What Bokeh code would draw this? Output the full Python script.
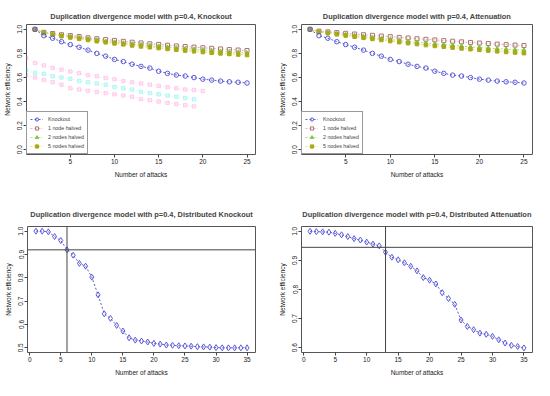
from bokeh.plotting import figure
from bokeh.layouts import column, row
from bokeh.models import FixedTicker, PrintfTickFormatter, Span, Legend, LegendItem, Range1d
from bokeh.embed import file_html
from bokeh.resources import INLINE

# ---------------- data ----------------
attacks25 = list(range(1, 26))
knockout = [1.0, 0.947, 0.926, 0.897, 0.873, 0.851, 0.827, 0.80, 0.777, 0.75, 0.732, 0.71,
            0.692, 0.678, 0.652, 0.634, 0.62, 0.612, 0.599, 0.586, 0.578, 0.57, 0.564, 0.56, 0.554]

one_node_ko = [1.0, 0.975, 0.965, 0.955, 0.948, 0.94, 0.93, 0.922, 0.915, 0.908, 0.9, 0.893, 0.887,
               0.88, 0.875, 0.868, 0.862, 0.857, 0.852, 0.847, 0.842, 0.837, 0.832, 0.828, 0.824]
two_nodes_ko = [1.0, 0.972, 0.96, 0.95, 0.94, 0.93, 0.92, 0.91, 0.9, 0.893, 0.885, 0.878, 0.871,
                0.864, 0.858, 0.851, 0.845, 0.839, 0.833, 0.828, 0.822, 0.817, 0.812, 0.807, 0.802]
five_nodes_ko = [1.0, 0.968, 0.955, 0.943, 0.932, 0.921, 0.911, 0.901, 0.892, 0.883, 0.875, 0.866, 0.858,
                 0.851, 0.844, 0.837, 0.83, 0.823, 0.817, 0.811, 0.805, 0.8, 0.795, 0.79, 0.786]

one_node_att = [1.0, 0.985, 0.979, 0.973, 0.967, 0.961, 0.955, 0.95, 0.944, 0.939, 0.933, 0.928, 0.922,
                0.917, 0.912, 0.906, 0.901, 0.896, 0.891, 0.886, 0.882, 0.877, 0.873, 0.869, 0.865]
two_nodes_att = [1.0, 0.98, 0.972, 0.964, 0.956, 0.947, 0.939, 0.931, 0.923, 0.915, 0.907, 0.9, 0.893,
                 0.886, 0.879, 0.872, 0.866, 0.86, 0.854, 0.849, 0.844, 0.839, 0.835, 0.831, 0.827]
five_nodes_att = [1.0, 0.977, 0.968, 0.958, 0.948, 0.938, 0.929, 0.92, 0.911, 0.902, 0.893, 0.885, 0.877,
                  0.869, 0.862, 0.855, 0.848, 0.841, 0.835, 0.829, 0.823, 0.817, 0.812, 0.807, 0.802]

# faint background traces in the knockout panel
faint_x_a = list(range(0, 21))
faint_pink_a = [0.76, 0.72, 0.70, 0.68, 0.665, 0.65, 0.635, 0.62, 0.61, 0.595, 0.585, 0.57, 0.56,
                0.55, 0.54, 0.53, 0.52, 0.51, 0.50, 0.495, 0.487]
faint_x_b = list(range(0, 20))
faint_cyan_b = [0.66, 0.64, 0.63, 0.61, 0.60, 0.59, 0.57, 0.56, 0.55, 0.54, 0.52, 0.51, 0.50,
                0.48, 0.47, 0.46, 0.45, 0.44, 0.43, 0.42]
faint_pink_c = [0.62, 0.60, 0.58, 0.56, 0.54, 0.51, 0.50, 0.49, 0.48, 0.47, 0.46, 0.45, 0.44,
                0.42, 0.41, 0.40, 0.39, 0.38, 0.37, 0.36]

attacks35 = list(range(1, 36))
dist_knockout = [1.0, 1.0, 0.997, 0.977, 0.96, 0.92, 0.897, 0.862, 0.85, 0.803, 0.727, 0.646, 0.626,
                 0.596, 0.572, 0.543, 0.533, 0.529, 0.525, 0.519, 0.516, 0.512, 0.511, 0.509, 0.508,
                 0.507, 0.505, 0.504, 0.503, 0.501, 0.5, 0.5, 0.5, 0.5, 0.5]
dist_attenuation = [1.0, 0.999, 0.998, 0.997, 0.993, 0.988, 0.982, 0.975, 0.97, 0.963, 0.956, 0.95,
                    0.928, 0.911, 0.902, 0.892, 0.88, 0.864, 0.841, 0.832, 0.819, 0.789, 0.769, 0.749,
                    0.695, 0.673, 0.662, 0.65, 0.646, 0.639, 0.627, 0.616, 0.608, 0.604, 0.599]
dk_vline, dk_hline = 6, 0.92
da_vline, da_hline = 13, 0.945

titles = ["Duplication divergence model with p=0.4, Knockout",
          "Duplication divergence model with p=0.4, Attenuation",
          "Duplication divergence model with p=0.4, Distributed Knockout",
          "Duplication divergence model with p=0.4, Distributed Attenuation"]
legend_labels = ["Knockout", "1 node halved", "2 nodes halved", "5 nodes halved"]
xlabel = "Number of attacks"
ylabel = "Network efficiency"

FONT = "Liberation Sans"
BLUE = "#5a5ad8"
TAN = "#a8786c"
TAN_LINE = "#f4a8c0"
GREEN = "#7cc83c"
GREEN_LINE = "#b0e070"
OLIVE = "#a8a818"
OLIVE_LINE = "#e8e060"


def make_fig(title, xr, yr, xticks, yticks, w, h, bl, br, bt, bb, standoff):
    p = figure(width=w, height=h, output_backend="svg", toolbar_location=None,
               x_range=Range1d(*xr), y_range=Range1d(*yr),
               min_border_left=bl, min_border_right=br, min_border_top=bt, min_border_bottom=bb)
    p.title.text = title
    p.title.align = "center"
    p.title.text_font = FONT
    p.title.text_font_size = "7.4px"
    p.title.text_font_style = "bold"
    p.title.standoff = standoff
    p.grid.visible = False
    p.outline_line_color = "#555555"
    p.outline_line_width = 1
    p.outline_line_alpha = 1
    p.background_fill_color = "white"
    p.border_fill_color = "white"
    for ax in (p.xaxis, p.yaxis):
        ax.axis_line_color = None
        ax.major_tick_in = 0
        ax.major_tick_out = 3
        ax.minor_tick_line_color = None
        ax.major_tick_line_color = "#444444"
        ax.major_label_text_font = FONT
        ax.major_label_text_font_size = "6.5px"
        ax.major_label_text_color = "#222222"
        ax.axis_label_text_font = FONT
        ax.axis_label_text_font_size = "6.5px"
        ax.axis_label_text_font_style = "normal"
        ax.axis_label_text_color = "#222222"
        ax.major_label_standoff = 1
    p.xaxis.ticker = FixedTicker(ticks=xticks)
    p.yaxis.ticker = FixedTicker(ticks=yticks)
    p.yaxis.formatter = PrintfTickFormatter(format="%.1f")
    p.yaxis.major_label_orientation = "vertical"
    p.xaxis.axis_label = xlabel
    p.yaxis.axis_label = ylabel
    p.xaxis.axis_label_standoff = 4
    p.yaxis.axis_label_standoff = 4
    return p


def top_panel(title, one, two, five, faint, bl, br):
    p = make_fig(title, (0.04, 25.96), (-0.04, 1.04), [5, 10, 15, 20, 25],
                 [0.0, 0.2, 0.4, 0.6, 0.8, 1.0], 267, 184, bl, br, 24, 30, 7)
    if faint:
        for fx, fy, col in ((faint_x_a, faint_pink_a, "#ff80d0"), (faint_x_b, faint_cyan_b, "#40e8f0"),
                            (faint_x_b, faint_pink_c, "#ff80d0")):
            p.line(fx, fy, line_color=col, line_dash="2 2", line_alpha=0.2)
            p.scatter(fx, fy, marker="square", size=3.5, fill_color=col, fill_alpha=0.18,
                      line_color=col, line_alpha=0.3)
    l1 = p.line(attacks25, one, line_color=TAN_LINE, line_dash="2 2")
    m1 = p.scatter(attacks25, one, marker="square", size=4, fill_color=None, line_color=TAN, line_width=1)
    l2 = p.line(attacks25, two, line_color=GREEN_LINE, line_dash="2 2")
    m2 = p.scatter(attacks25, two, marker="triangle", size=4, fill_color=GREEN, line_color=GREEN)
    l5 = p.line(attacks25, five, line_color=OLIVE_LINE, line_dash="2 2")
    m5 = p.scatter(attacks25, five, marker="square", size=3.5, fill_color=OLIVE, line_color=OLIVE)
    lk = p.line(attacks25, knockout, line_color=BLUE, line_dash="2 2")
    mk = p.scatter(attacks25, knockout, marker="circle", size=4.5, fill_color=None, line_color=BLUE, line_width=1)
    legend = Legend(items=[LegendItem(label=legend_labels[0], renderers=[lk, mk]),
                           LegendItem(label=legend_labels[1], renderers=[l1, m1]),
                           LegendItem(label=legend_labels[2], renderers=[l2, m2]),
                           LegendItem(label=legend_labels[3], renderers=[l5, m5])],
                    location="bottom_left", margin=0, padding=3, spacing=1,
                    glyph_width=13, glyph_height=8, label_height=8,
                    label_text_font=FONT, label_text_font_size="5.3px", label_standoff=5,
                    border_line_color="#333333", border_line_width=1, background_fill_alpha=1)
    p.add_layout(legend)
    return p


def bottom_panel(title, y, yr, yticks, vx, hy, bl, br):
    p = make_fig(title, (-0.36, 36.36), yr, [0, 5, 10, 15, 20, 25, 30, 35], yticks,
                 267, 196, bl, br, 42, 28, 15)
    p.line(attacks35, y, line_color=BLUE, line_dash="2 2")
    p.scatter(attacks35, y, marker="diamond", size=6, fill_color=None, line_color=BLUE, line_width=1)
    p.add_layout(Span(location=vx, dimension="height", line_color="#444444", line_width=1))
    p.add_layout(Span(location=hy, dimension="width", line_color="#444444", line_width=1))
    return p


p1 = top_panel(titles[0], one_node_ko, two_nodes_ko, five_nodes_ko, True, 25, 12)
p2 = top_panel(titles[1], one_node_att, two_nodes_att, five_nodes_att, False, 34, 2)
p3 = bottom_panel(titles[2], dist_knockout, (0.48, 1.02), [0.5, 0.6, 0.7, 0.8, 0.9, 1.0],
                  dk_vline, dk_hline, 27, 12)
p4 = bottom_panel(titles[3], dist_attenuation, (0.5834, 1.0166), [0.6, 0.7, 0.8, 0.9, 1.0],
                  da_vline, da_hline, 34, 2)

layout = column(row(p1, p2, spacing=0), row(p3, p4, spacing=0), spacing=0)
open("out.html", "w").write(file_html(layout, INLINE))
